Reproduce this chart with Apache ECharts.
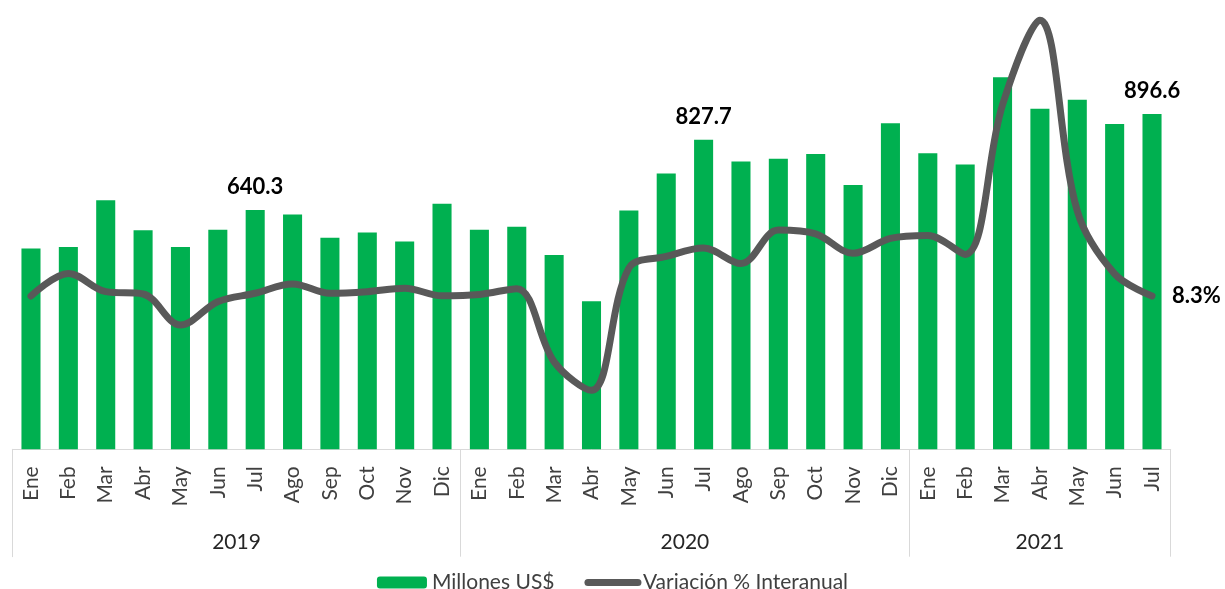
<!DOCTYPE html>
<html>
<head>
<meta charset="utf-8">
<script src="https://cdn.jsdelivr.net/npm/echarts@6/dist/echarts.min.js"></script>
<style>
  html, body { margin: 0; padding: 0; background: #fff; }
  #chart { width: 1225px; height: 589px; }
</style>
</head>
<body>
<div id="chart"></div>
<script>
var months = ['Ene','Feb','Mar','Abr','May','Jun','Jul','Ago','Sep','Oct','Nov','Dic',
              'Ene','Feb','Mar','Abr','May','Jun','Jul','Ago','Sep','Oct','Nov','Dic',
              'Ene','Feb','Mar','Abr','May','Jun','Jul'];
var years = ['2019', '2020', '2021'];
var yearCenters = [6, 18, 27.5];
var yearStarts = [0, 12, 24];

// Millones US$
var exportsUSD = [537, 541, 666, 586, 541, 587, 640.3, 628, 566, 580, 556, 657,
                  587, 595, 520, 396, 639, 738, 827.7, 770, 777, 790, 707, 872,
                  792, 762, 995, 911, 935, 870, 896.6];
// Variación % interanual
var yoyPct = [8.3, 18.2, 10.2, 9.2, -4.4, 5.8, 9.5, 13.6, 9.5, 10.2, 11.7, 8.4,
              9.0, 11.5, -20.5, -33.0, 20.5, 25.6, 29.3, 22.5, 37.2, 35.5, 27.0, 33.5,
              34.8, 26.5, 92.0, 129.0, 45.5, 18.0, 8.3];
var barLabelIdx = [6, 18, 30];

var FONT = 'Lato, "Liberation Sans", sans-serif';
var myChart = echarts.init(document.getElementById('chart'));

var barData = exportsUSD.map(function (v, i) {
  if (barLabelIdx.indexOf(i) >= 0) {
    return { value: v, label: { show: true } };
  }
  return v;
});

var option = {
  backgroundColor: '#ffffff',
  textStyle: { fontFamily: FONT },
  grid: [
    { left: 12.3, right: 54.3, top: 10, bottom: 139.7 },
    { left: 12.3, right: 54.3, top: 449.3, bottom: 32.3 }
  ],
  legend: {
    top: 567,
    left: 'center',
    itemWidth: 50,
    itemHeight: 12,
    itemGap: 30,
    textStyle: { fontSize: 21, color: '#404040', fontFamily: FONT },
    data: [
      { name: 'Millones US$' },
      {
        name: 'Variación % Interanual',
        itemStyle: { opacity: 0 },
        lineStyle: { width: 7, cap: 'round', color: '#595959' }
      }
    ]
  },
  xAxis: [
    {
      type: 'category',
      gridIndex: 0,
      data: months,
      boundaryGap: true,
      axisLine: { lineStyle: { color: '#d9d9d9', width: 1 } },
      axisTick: { show: false },
      axisLabel: {
        rotate: 90,
        interval: 0,
        margin: 17,
        fontSize: 21,
        color: '#404040',
        fontFamily: FONT
      }
    },
    {
      // separadores de año
      type: 'category',
      gridIndex: 1,
      data: months,
      boundaryGap: true,
      axisLine: { show: false },
      axisTick: { show: false },
      axisLabel: { show: false },
      splitLine: {
        show: true,
        interval: function (i) { return yearStarts.indexOf(i) >= 0; },
        lineStyle: { color: '#d9d9d9', width: 1 }
      }
    },
    {
      // etiquetas de año
      type: 'value',
      gridIndex: 1,
      position: 'top',
      min: 0,
      max: 31,
      axisLine: { show: false },
      splitLine: { show: false },
      axisTick: { show: false },
      axisLabel: {
        inside: true,
        margin: 82,
        fontSize: 21,
        color: '#262626',
        fontFamily: FONT,
        customValues: yearCenters,
        formatter: function (v) {
          return years[yearCenters.indexOf(v)];
        }
      }
    }
  ],
  yAxis: [
    { type: 'value', gridIndex: 0, min: 0, max: 1175, show: false },
    { type: 'value', gridIndex: 0, min: -58.8, max: 133.5, show: false },
    {
      type: 'value', gridIndex: 1, min: 0, max: 1, position: 'right',
      axisLine: { show: true, lineStyle: { color: '#d9d9d9', width: 1 } },
      axisTick: { show: false },
      axisLabel: { show: false },
      splitLine: { show: false }
    }
  ],
  series: [
    {
      name: 'Millones US$',
      type: 'bar',
      xAxisIndex: 0,
      yAxisIndex: 0,
      barWidth: '51%',
      itemStyle: { color: '#00B050' },
      label: {
        show: false,
        position: 'top',
        distance: 12,
        fontSize: 22,
        fontWeight: 'bold',
        color: '#000000',
        fontFamily: FONT,
        formatter: function (p) { return p.value.toFixed(1); }
      },
      data: barData
    },
    {
      name: 'Variación % Interanual',
      type: 'line',
      xAxisIndex: 0,
      yAxisIndex: 1,
      smooth: 0.35,
      symbol: 'none',
      lineStyle: { color: '#595959', width: 7, cap: 'round', join: 'round' },
      itemStyle: { color: '#595959' },
      endLabel: {
        show: true,
        distance: 20,
        fontSize: 22,
        fontWeight: 'bold',
        color: '#000000',
        fontFamily: FONT,
        formatter: function (p) { return p.value.toFixed(1) + '%'; }
      },
      data: yoyPct
    }
  ]
};

myChart.setOption(option);
</script>
</body>
</html>
